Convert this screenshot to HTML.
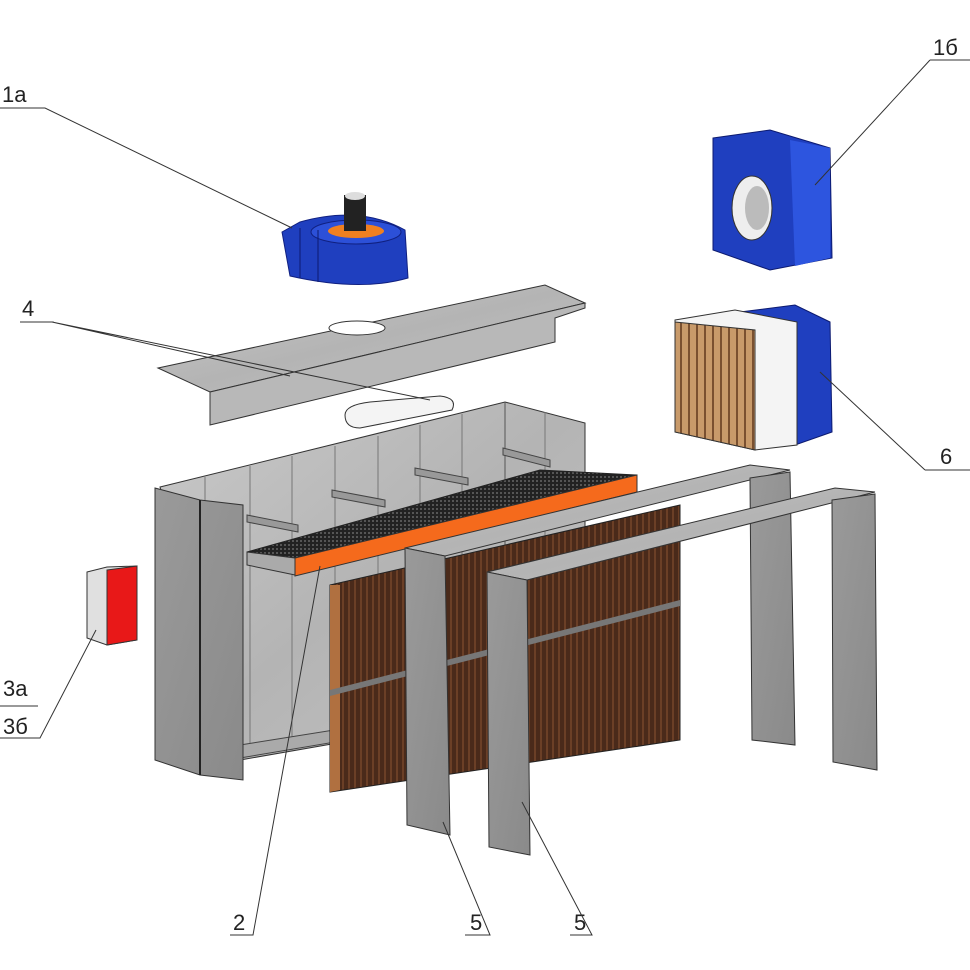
<!DOCTYPE html>
<html><head><meta charset="utf-8"><style>
html,body{margin:0;padding:0;background:#fff;}
svg{display:block}
text{font-family:"Liberation Sans",sans-serif;font-size:22px;fill:#222}
</style></head><body>
<svg width="970" height="970" viewBox="0 0 970 970" xmlns="http://www.w3.org/2000/svg">
<defs>
<linearGradient id="g1" x1="0" y1="0" x2="1" y2="1"><stop offset="0" stop-color="#c9c9c9"/><stop offset="0.5" stop-color="#b4b4b4"/><stop offset="1" stop-color="#c4c4c4"/></linearGradient>
<linearGradient id="gd" x1="0" y1="0" x2="1" y2="1"><stop offset="0" stop-color="#9a9a9a"/><stop offset="1" stop-color="#8a8a8a"/></linearGradient>
<pattern id="wood" width="6" height="10" patternUnits="userSpaceOnUse"><rect width="6" height="10" fill="#4a2a1a"/><rect width="2" height="10" fill="#6b3f26"/></pattern>
<pattern id="wood2" width="8" height="10" patternUnits="userSpaceOnUse"><rect width="8" height="10" fill="#c89a6a"/><rect width="2" height="10" fill="#7a5030"/></pattern>
<pattern id="grid" width="4" height="4" patternUnits="userSpaceOnUse"><rect width="4" height="4" fill="#222"/><rect width="2" height="2" fill="#555"/></pattern>
</defs>

<text x="2" y="102">1а</text>
<text x="933" y="55">1б</text>
<text x="22" y="316">4</text>
<text x="940" y="464">6</text>
<text x="3" y="696">3а</text>
<text x="3" y="734">3б</text>
<text x="233" y="930">2</text>
<text x="470" y="930">5</text>
<text x="574" y="930">5</text>

<!-- fan 1a -->
<path d="M282 232 L300 222 Q360 205 405 230 L408 278 Q360 292 290 276 Z" fill="#1f3fbf" stroke="#102080"/>
<ellipse cx="356" cy="232" rx="45" ry="12" fill="#2c50d8" stroke="#102080"/>
<ellipse cx="356" cy="231" rx="28" ry="7" fill="#f08020"/>
<rect x="344" y="195" width="22" height="36" fill="#222"/>
<ellipse cx="355" cy="196" rx="10" ry="4" fill="#ddd"/>
<path d="M300 228 V278 M318 230 V282" stroke="#0c1a70"/>

<!-- fan 1b -->
<path d="M713 138 L770 130 L830 148 L832 258 L770 270 L713 250 Z" fill="#1f3fbf" stroke="#0c1a70"/>
<path d="M790 140 L830 148 L830 258 L795 266 Z" fill="#2d55df"/>
<ellipse cx="752" cy="208" rx="20" ry="32" fill="#eee" stroke="#333"/>
<ellipse cx="757" cy="208" rx="12" ry="22" fill="#bbb"/>

<!-- filter 6 -->
<path d="M740 312 L795 305 L830 322 L832 432 L795 445 Z" fill="#1f3fbf" stroke="#0c1a70"/>
<path d="M675 320 L735 310 L797 322 L797 445 L755 450 L675 432 Z" fill="#f4f4f4" stroke="#333"/>
<path d="M675 322 L755 330 L755 450 L675 432 Z" fill="url(#wood2)" stroke="#333"/>

<!-- roof panel 4 -->
<path d="M158 368 L545 285 L585 303 L210 392 Z" fill="url(#g1)" stroke="#333"/>
<path d="M210 392 L585 303 L585 308 L555 318 L555 342 L210 425 Z" fill="#b8b8b8" stroke="#333"/>
<ellipse cx="357" cy="328" rx="28" ry="7" fill="#fff" stroke="#333"/>
<path d="M345 415 Q345 405 370 402 L440 396 Q458 398 452 410 L360 428 Q345 428 345 415 Z" fill="#f4f4f4" stroke="#333"/>

<!-- main booth back wall -->
<path d="M160 487 L505 402 L585 423 L585 700 L240 760 Z" fill="url(#g1)" stroke="#333"/>
<path d="M505 402 L505 680" stroke="#555"/>
<g stroke="#777"><path d="M205 477 V760 M250 466 V755 M292 456 V750 M335 446 V745 M378 436 V740 M420 425 V735 M462 414 V730 M545 412 V700"/></g>
<path d="M240 745 L585 690 L585 700 L240 758 Z" fill="#aaa" stroke="#444"/>
<g fill="#999" stroke="#444"><path d="M247 515 L298 525 L298 532 L247 522Z M332 490 L385 500 L385 507 L332 497Z M415 468 L468 478 L468 485 L415 475Z M503 448 L550 460 L550 467 L503 455Z"/></g>
<path d="M155 488 L200 500 L243 505 L243 780 L200 775 L155 760 Z" fill="url(#gd)" stroke="#333"/>
<path d="M200 500 V775" stroke="#222" stroke-width="2"/>

<!-- grid 2 -->
<path d="M247 552 L540 470 L637 475 L295 558 Z" fill="url(#grid)" stroke="#222"/>
<path d="M247 552 L295 558 L295 575 L247 565 Z" fill="#aaa" stroke="#333"/>
<path d="M295 558 L637 475 L637 492 L295 576 Z" fill="#f56a1c" stroke="#333"/>

<!-- brown filter -->
<path d="M330 585 L680 505 L680 740 L330 792 Z" fill="url(#wood)" stroke="#222"/>
<path d="M330 585 L340 585 L340 790 L330 792Z" fill="#b07040"/>
<path d="M330 690 L680 600 L680 606 L330 696Z" fill="#777"/>

<!-- frame 5a -->
<path d="M405 548 L750 465 L790 470 L445 556 Z" fill="url(#g1)" stroke="#333"/>
<path d="M750 478 L790 472 L795 745 L752 740 Z" fill="url(#gd)" stroke="#333"/>
<path d="M405 548 L445 556 L450 835 L407 825 Z" fill="url(#gd)" stroke="#333"/>
<!-- frame 5b -->
<path d="M487 572 L835 488 L875 492 L527 580 Z" fill="url(#g1)" stroke="#333"/>
<path d="M832 500 L875 494 L877 770 L833 762 Z" fill="url(#gd)" stroke="#333"/>
<path d="M487 572 L527 580 L530 855 L489 847 Z" fill="url(#gd)" stroke="#333"/>

<!-- control box 3 -->
<path d="M87 572 L107 567 L137 566 L137 640 L107 645 L87 638 Z" fill="#e0e0e0" stroke="#333"/>
<path d="M107 570 L137 566 L137 640 L107 645 Z" fill="#e81818" stroke="#333"/>

<!-- leader lines on top -->
<g stroke="#333" stroke-width="1" fill="none">
<path d="M0 108 H45 L292 228"/>
<path d="M930 60 H970 M930 60 L815 185"/>
<path d="M20 322 H52 L430 400 M52 322 L290 376"/>
<path d="M925 470 H970 M925 470 L820 372"/>
<path d="M0 738 H40 L96 630 M0 706 H38"/>
<path d="M230 935 H253 L320 566"/>
<path d="M465 935 H490 L443 822"/>
<path d="M570 935 H592 L522 802"/>
</g>
</svg>
</body></html>
